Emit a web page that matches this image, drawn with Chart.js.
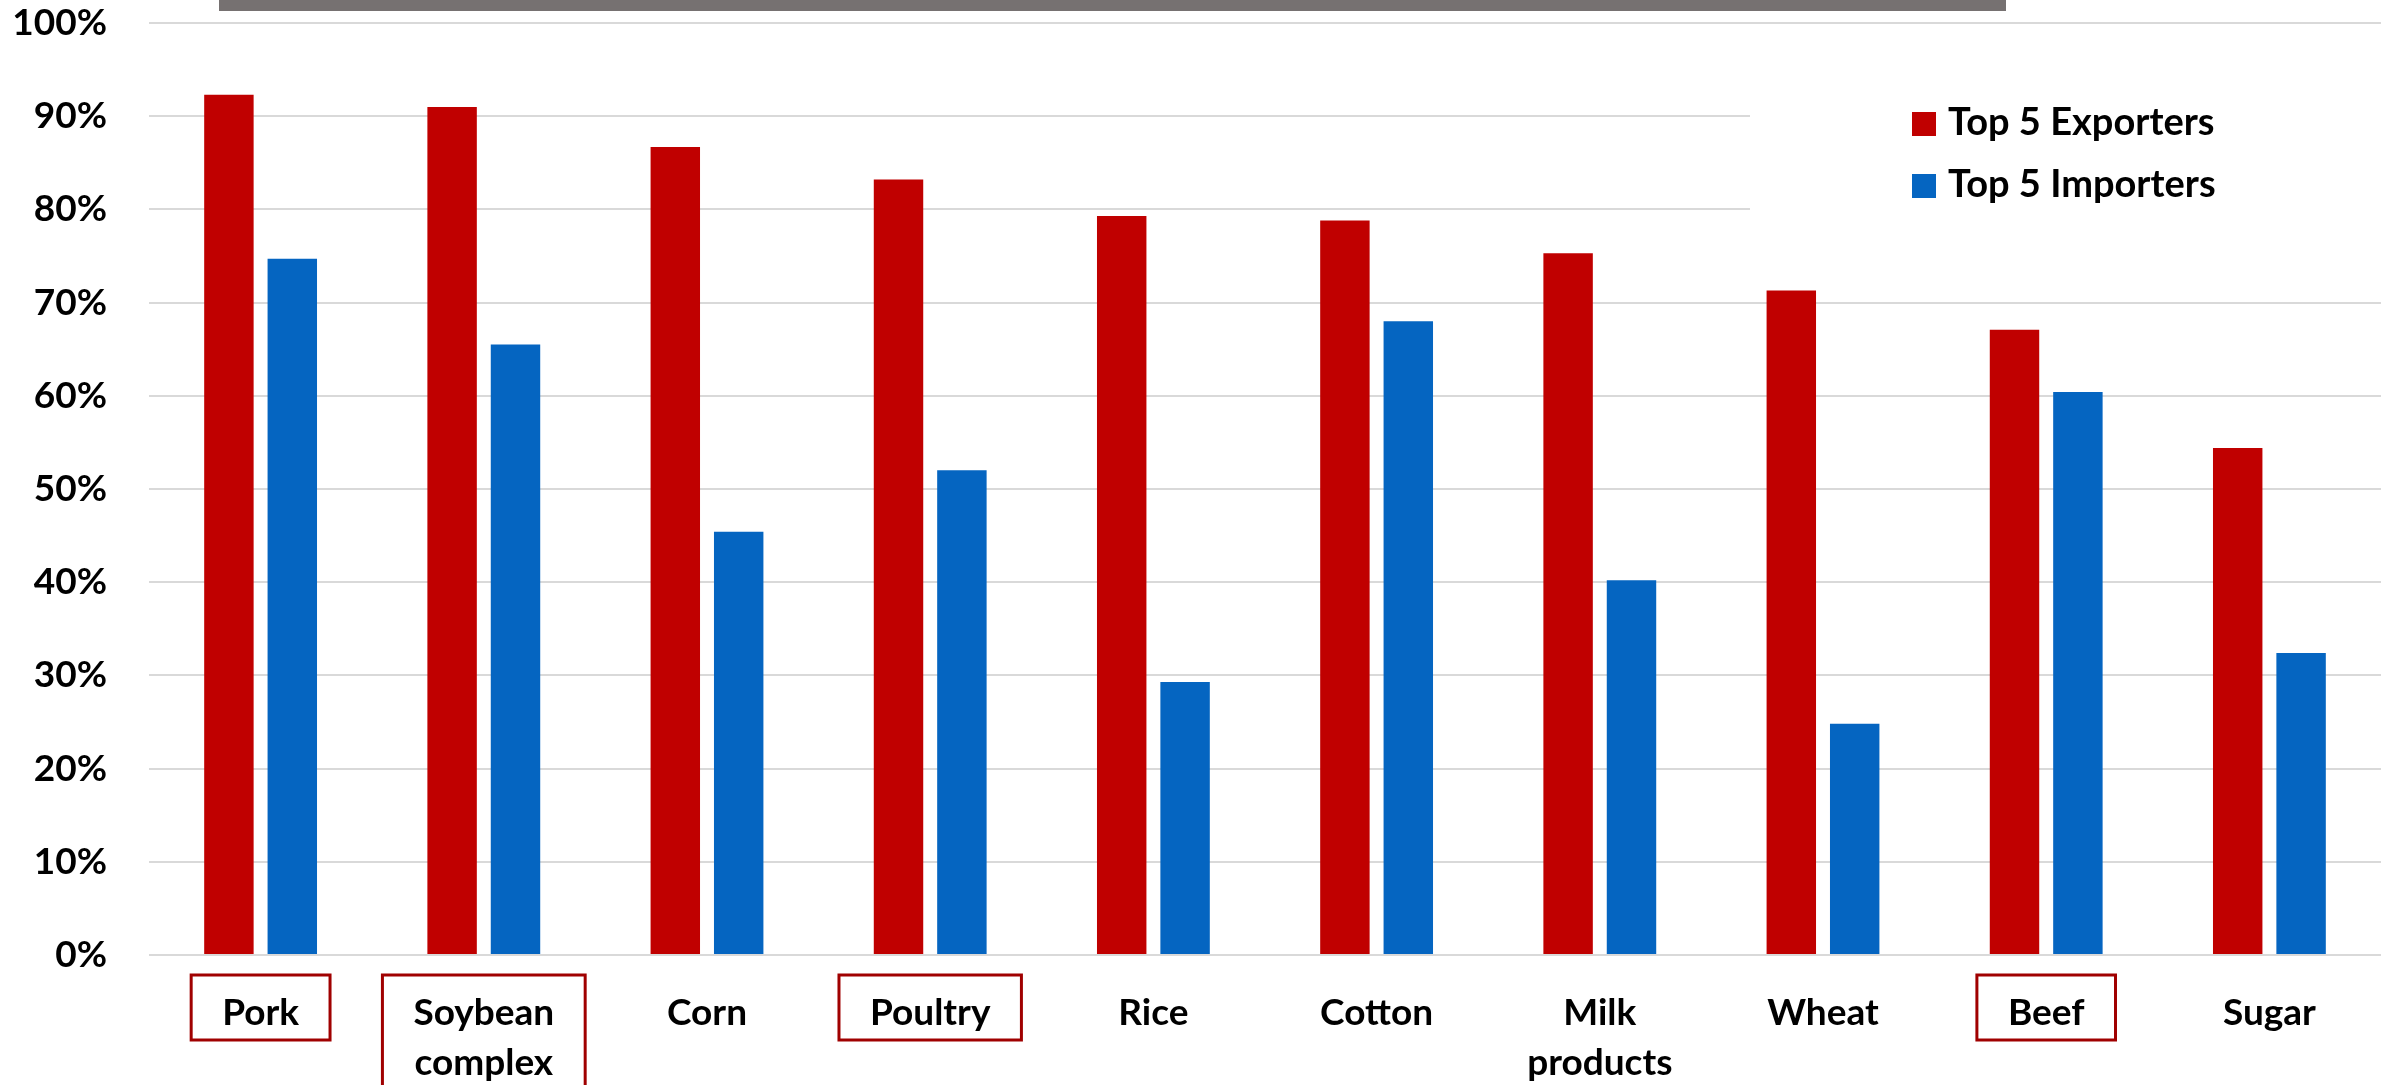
<!DOCTYPE html>
<html>
<head>
<meta charset="utf-8">
<script src="https://cdn.jsdelivr.net/npm/chart.js@4.4.1/dist/chart.umd.min.js"></script>
<style>
  html, body { margin: 0; padding: 0; background: #fff; }
  #wrap { width: 2381px; height: 1085px; position: relative; }
</style>
</head>
<body>
<div id="wrap"><canvas id="barChart"></canvas></div>
<script>
// --- DATA --- //
const categories = ["Pork", ["Soybean", "complex"], "Corn", "Poultry", "Rice", "Cotton", ["Milk", "products"], "Wheat", "Beef", "Sugar"];
const exporters = [92.3, 91.0, 86.7, 83.2, 79.3, 78.8, 75.3, 71.3, 67.1, 54.4];
const importers = [74.7, 65.5, 45.4, 52.0, 29.3, 68.0, 40.2, 24.8, 60.4, 32.4];
const yTicks = [0, 10, 20, 30, 40, 50, 60, 70, 80, 90, 100];
const boxed = ["Pork", "Soybean", "Poultry", "Beef"];

const FONT = "Lato, 'Open Sans', sans-serif";
const RED = "#C00000";
const BLUE = "#0565C1";

// --- PLUGIN: bar abu-abu di atas --- //
const topBar = {
  id: "topBar",
  beforeDraw(chart) {
    const c = chart.ctx;
    c.save();
    c.fillStyle = "#fff";
    c.fillRect(0, 0, chart.width, chart.height);
    c.fillStyle = "#767171";
    c.fillRect(219, 0, 1787, 11);
    c.restore();
  }
};

// --- PLUGIN: kotak di label kategori --- //
const labelBoxes = {
  id: "labelBoxes",
  afterDraw(chart) {
    const c = chart.ctx;
    const x = chart.scales.x;
    c.save();
    c.font = "bold 37px " + FONT;
    c.strokeStyle = "#A00000";
    c.lineWidth = 3;
    categories.forEach((cat, i) => {
      const lines = Array.isArray(cat) ? cat : [cat];
      if (!boxed.includes(lines[0])) return;
      const w = Math.max(...lines.map(l => c.measureText(l).width)) + 62;
      const cx = x.getPixelForValue(i);
      const top = x.top + 20;
      const h = lines.length > 1 ? 200 : 65;
      c.strokeRect(cx - w / 2, top, w, h);
    });
    c.restore();
  }
};

// --- PLUGIN: legenda --- //
const boxLegend = {
  id: "boxLegend",
  afterDraw(chart) {
    const c = chart.ctx;
    c.save();
    c.fillStyle = "#fff";
    c.fillRect(1750, 40, chart.width - 1750, 240);
    c.font = "bold 38px " + FONT;
    c.textBaseline = "alphabetic";
    chart.data.datasets.forEach((ds, i) => {
      const y = 112 + i * 62;
      c.fillStyle = ds.backgroundColor;
      c.fillRect(1912, y, 24, 24);
      c.fillStyle = "#000";
      c.fillText(ds.label, 1948, y + 23);
    });
    c.restore();
  }
};

// --- CHART --- //
const ctx = document.getElementById("barChart");
new Chart(ctx, {
  type: "bar",
  data: {
    labels: categories,
    datasets: [
      { label: "Top 5 Exporters", data: exporters, backgroundColor: RED },
      { label: "Top 5 Importers", data: importers, backgroundColor: BLUE }
    ]
  },
  options: {
    responsive: true,
    maintainAspectRatio: false,
    animation: false,
    layout: { padding: { top: 23, right: 0, left: 0, bottom: 0 } },
    datasets: { bar: { categoryPercentage: 0.568, barPercentage: 0.78 } },
    plugins: { legend: { display: false }, tooltip: { enabled: false } },
    scales: {
      x: {
        grid: { display: false },
        border: { display: false },
        ticks: {
          color: "#000",
          padding: 25,
          maxRotation: 0,
          autoSkip: false,
          font: { family: FONT, size: 37, weight: "bold", lineHeight: 1.35 }
        },
        afterFit(scale) { scale.height = 130; scale.paddingLeft = 0; scale.paddingRight = 0; }
      },
      y: {
        min: 0,
        max: 100,
        afterBuildTicks(scale) { scale.ticks = yTicks.map(v => ({ value: v })); },
        grid: { color: "#D9D9D9", lineWidth: 2, drawTicks: false },
        border: { display: false },
        ticks: {
          color: "#000",
          padding: 42,
          font: { family: FONT, size: 37, weight: "bold" },
          callback: v => v + "%"
        },
        afterFit(scale) { scale.width = 149; scale.paddingTop = 0; scale.paddingBottom = 0; }
      }
    }
  },
  plugins: [topBar, labelBoxes, boxLegend]
});
</script>
</body>
</html>
